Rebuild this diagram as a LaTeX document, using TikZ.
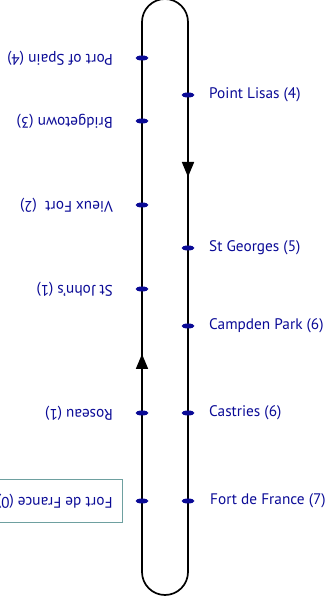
\documentclass[tikz,border=0pt]{standalone}
\usepackage{fontspec}
\setmainfont{PT Sans}
\usetikzlibrary{arrows.meta,shapes.geometric}
\definecolor{navy}{RGB}{10,10,150}
\definecolor{boxteal}{RGB}{110,160,160}
\tikzset{
  loopline/.style={line width=1.7pt,black},
  stopdot/.style={ellipse,fill=navy,inner sep=0pt,minimum width=13pt,minimum height=5pt},
  rlabel/.style={anchor=west,text=navy,font=\fontsize{15.3}{17}\selectfont,inner sep=0pt},
  llabel/.style={anchor=west,rotate=180,text=navy,font=\fontsize{15.3}{17}\selectfont,inner sep=0pt},
  dirarrow/.style={line width=1.7pt,-{Triangle[width=12pt,length=15pt]}},
}
\begin{document}
\begin{tikzpicture}[x=1pt,y=1pt]
\useasboundingbox (0,0) rectangle (330,599);
\clip (0,0) rectangle (330,599);
% loop corners
\coordinate (lb) at (142,27);
\coordinate (lt) at (142,577);
\coordinate (rt) at (188,577);
\coordinate (rb) at (188,27);
\draw[loopline] (lb) -- (lt) arc[start angle=180,end angle=0,radius=23] -- (rb) arc[start angle=0,end angle=-180,radius=23] -- cycle;
% direction arrows
\coordinate (ra0) at (188,445);
\coordinate (ra1) at (188,422);
\coordinate (la0) at (142,222);
\coordinate (la1) at (142,245);
\draw[dirarrow] (ra0) -- (ra1);
\draw[dirarrow] (la0) -- (la1);
% left stops
\node[stopdot] (pos) at (142,541) {};
\node[stopdot] (bri) at (142,478) {};
\node[stopdot] (vie) at (142,394) {};
\node[stopdot] (stj) at (142,310) {};
\node[stopdot] (ros) at (142,186) {};
\node[stopdot] (fdf0) at (142,98) {};
% right stops
\node[stopdot] (pli) at (188,504) {};
\node[stopdot] (stg) at (188,351) {};
\node[stopdot] (cam) at (188,273) {};
\node[stopdot] (cas) at (188,186) {};
\node[stopdot] (fdf7) at (188,98) {};
% right labels
\node[rlabel] (lpli) at (209,504) {Point Lisas (4)};
\node[rlabel] (lstg) at (209,351) {St Georges (5)};
\node[rlabel] (lcam) at (209,273) {Campden Park (6)};
\node[rlabel] (lcas) at (209,186) {Castries (6)};
\node[rlabel] (lfdf7) at (210,98) {Fort de France (7)};
% left labels (upside down)
\node[llabel] (lpos) at (113,541) {Port of Spain (4)};
\node[llabel] (lbri) at (113,478) {Bridgetown (3)};
\node[llabel] (lvie) at (113,394) {Vieux Fort\ \ (2)};
\node[llabel] (lstj) at (113,310) {St John's (1)};
\node[llabel] (lros) at (113,186) {Roseau (1)};
\node[llabel,draw=boxteal,line width=1pt,inner xsep=10pt,minimum height=43pt] (lfdf0) at (123,98) {Fort de France (0)};
\end{tikzpicture}
\end{document}
